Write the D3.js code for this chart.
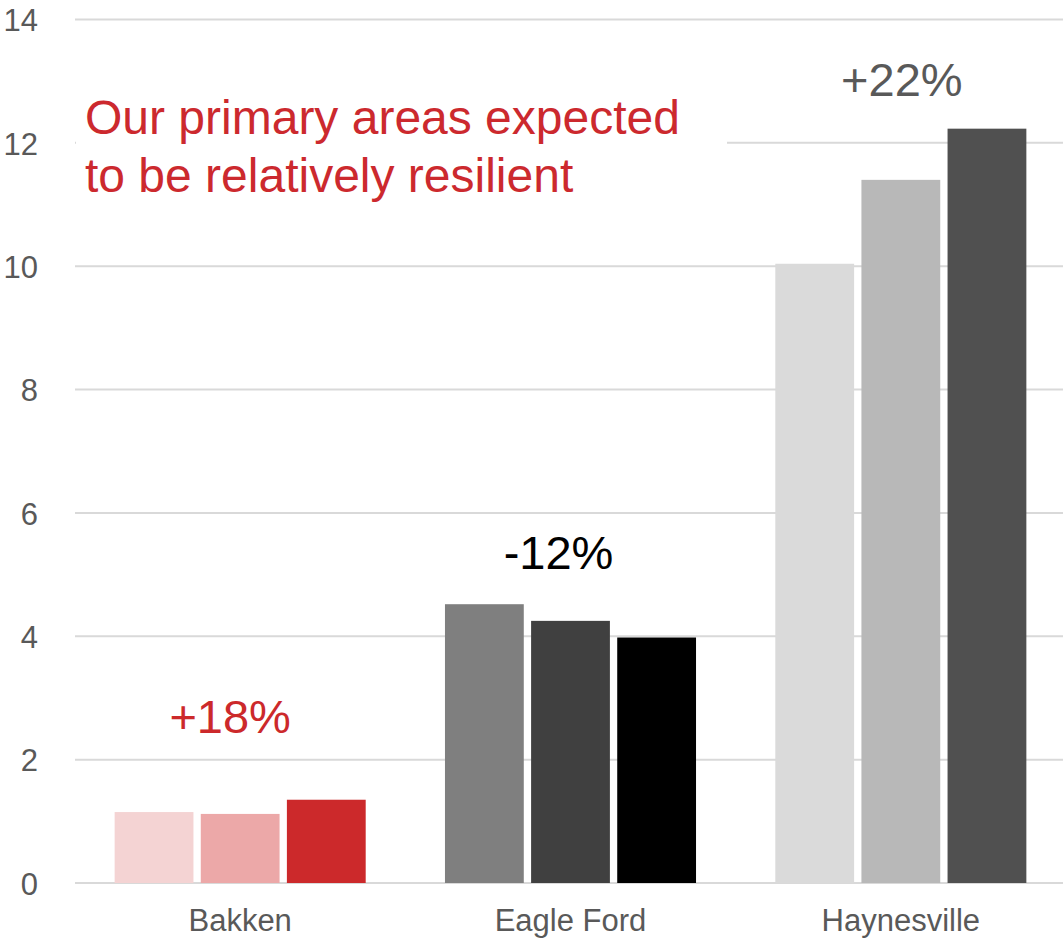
<!DOCTYPE html>
<html>
<head>
<meta charset="utf-8">
<script src="https://cdn.jsdelivr.net/npm/d3@7"></script>
<style>
  html, body { margin: 0; padding: 0; background: #fff; }
  svg { display: block; font-family: "Liberation Sans", Arial, sans-serif; }
</style>
</head>
<body>
<svg id="chart" width="1063" height="939"></svg>
<script>
// Basin production by period
const categories = ["Bakken", "Eagle Ford", "Haynesville"];
const series1 = [1.15, 4.52, 10.04];
const series2 = [1.12, 4.25, 11.40];
const series3 = [1.35, 3.98, 12.23];
const changeLabels = ["+18%", "-12%", "+22%"];
const yTicks = [0, 2, 4, 6, 8, 10, 12, 14];
const headline = ["Our primary areas expected", "to be relatively resilient"];

// One colour ramp per basin, lightest to darkest period
const palettes = [
  ["#f4d3d3", "#eca8a8", "#cc292b"],
  ["#7f7f7f", "#404040", "#000000"],
  ["#dadada", "#b8b8b8", "#505050"]
];
const labelColors = ["#cc292b", "#000000", "#595959"];

const svg = d3.select("#chart");
const plot = { left: 75, right: 1063, top: 19.5, bottom: 883 };

const x = d3.scaleBand().domain(categories)
  .range([plot.left, plot.right + 3]).paddingInner(0.24).paddingOuter(0.12);
const xSub = d3.scaleBand().domain([0, 1, 2])
  .range([0, x.bandwidth()]).paddingInner(0.085);
const y = d3.scaleLinear().domain([0, 14]).range([plot.bottom, plot.top]);

// Horizontal gridlines
svg.append("g").selectAll("line").data(yTicks).join("line")
  .attr("x1", plot.left).attr("x2", plot.right)
  .attr("y1", d => y(d)).attr("y2", d => y(d))
  .attr("stroke", "#d9d9d9").attr("stroke-width", 2);

// Y axis tick labels
const yAxis = d3.axisLeft(y).tickValues(yTicks).tickSize(0).tickPadding(0);
const yg = svg.append("g").attr("transform", "translate(38,0)").call(yAxis);
yg.select(".domain").remove();
yg.selectAll("text")
  .attr("font-size", 31).attr("fill", "#595959")
  .attr("font-family", "Liberation Sans, Arial, sans-serif")
  .attr("dy", "0.36em");

// Headline text box (white fill hides the gridline behind it)
svg.append("rect").attr("x", plot.left + 1).attr("y", 70)
  .attr("width", 651).attr("height", 130).attr("fill", "#fff");
svg.append("text")
  .attr("x", 85).attr("y", 134)
  .attr("font-size", 48).attr("fill", "#cc292e")
  .selectAll("tspan").data(headline).join("tspan")
  .attr("x", 85).attr("dy", (d, i) => i === 0 ? 0 : 58)
  .text(d => d);

// Bars
const rows = categories.map((c, i) => ({
  category: c, idx: i, values: [series1[i], series2[i], series3[i]]
}));
const groups = svg.append("g").selectAll("g").data(rows).join("g")
  .attr("transform", d => `translate(${x(d.category)},0)`);
groups.selectAll("rect").data(d => d.values.map((v, j) => ({ v, j, idx: d.idx })))
  .join("rect")
  .attr("x", d => xSub(d.j))
  .attr("width", xSub.bandwidth())
  .attr("y", d => y(d.v))
  .attr("height", d => y(0) - y(d.v))
  .attr("fill", d => palettes[d.idx][d.j]);

// Change labels above each basin
const labelOffsets = [{ dx: -10, dy: -67 }, { dx: -12, dy: -35 }, { dx: 1, dy: -33 }];
svg.append("g").selectAll("text").data(rows).join("text")
  .attr("x", d => x(d.category) + x.bandwidth() / 2 + labelOffsets[d.idx].dx)
  .attr("y", d => y(d3.max(d.values)) + labelOffsets[d.idx].dy)
  .attr("text-anchor", "middle")
  .attr("font-size", 47)
  .attr("fill", d => labelColors[d.idx])
  .text(d => changeLabels[d.idx]);

// Category axis
const xAxis = d3.axisBottom(x).tickSize(0).tickPadding(0);
const xg = svg.append("g").attr("transform", `translate(0,${plot.bottom})`).call(xAxis);
xg.select(".domain").remove();
xg.selectAll("text")
  .attr("font-size", 31).attr("fill", "#595959")
  .attr("font-family", "Liberation Sans, Arial, sans-serif")
  .attr("dy", null).attr("y", 48);
</script>
</body>
</html>
